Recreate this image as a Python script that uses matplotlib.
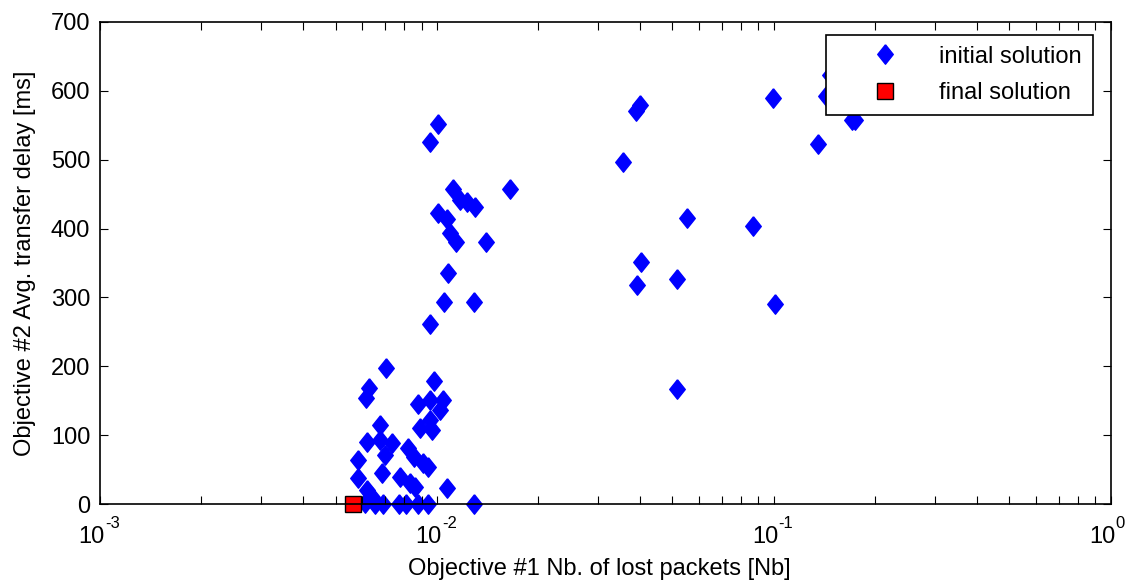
import numpy as np
import matplotlib.pyplot as plt
from matplotlib.ticker import LogLocator, NullFormatter, FixedLocator

plt.rcParams['font.family'] = ['Liberation Sans', 'DejaVu Sans']

# initial solutions: lost packets vs. average transfer delay
lost_init = [
    0.171, 0.1466, 0.1426, 0.135, 0.174, 0.0993, 0.0400, 0.0390, 0.0357,
    0.0552, 0.0868, 0.0403, 0.0392, 0.0515, 0.1007, 0.0515,
    0.01007, 0.00953, 0.01115, 0.01647, 0.0117, 0.0123, 0.0130, 0.01007,
    0.0107, 0.0109, 0.0114, 0.01397, 0.0108, 0.0105, 0.0129, 0.00953,
    0.00706, 0.00628, 0.00615, 0.0098, 0.00879, 0.00953, 0.0104, 0.0102,
    0.00953, 0.0089, 0.0097, 0.00678, 0.0062, 0.00678, 0.00735, 0.00701,
    0.00583, 0.0082, 0.00856, 0.00908, 0.0094, 0.00686, 0.00583, 0.00777,
    0.0083, 0.0086, 0.0107, 0.0062, 0.0064, 0.0061, 0.00655, 0.0069,
    0.0077, 0.0081, 0.0088, 0.0094, 0.0129,
]
delay_init = [
    557, 623, 593, 523, 557, 590, 579, 571, 496,
    415, 403, 351, 318, 327, 290, 167,
    552, 526, 457, 457, 441, 438, 431, 422,
    414, 393, 380, 380, 335, 293, 293, 261,
    197, 168, 154, 178, 145, 151, 151, 136,
    122, 110, 107, 115, 90, 93, 88, 71,
    64, 81, 68, 59, 54, 45, 38, 39,
    30, 25, 23, 20, 10, 1, 0, 0,
    0, 0, 0, 0, 0,
]

# final solution
lost_final = [0.00563]
delay_final = [0]

x_ticks = [1e-3, 1e-2, 1e-1, 1e0]
x_exponents = ['-3', '-2', '-1', '0']
y_ticks = [0, 100, 200, 300, 400, 500, 600, 700]

# tall diamond like the MATLAB 'd' marker
diamond = [(0, 1), (0.8, 0), (0, -1), (-0.8, 0), (0, 1)]

fig = plt.figure(figsize=(11.3, 5.83), dpi=100)
ax = fig.add_axes([0.0885, 0.1355, 0.8945, 0.8268])

ax.plot(lost_init, delay_init, linestyle='none', marker=diamond,
        markersize=14, color='#0000ff', markeredgecolor='#0000ff',
        label='initial solution', clip_on=False, zorder=1)
ax.plot(lost_final, delay_final, linestyle='none', marker='s',
        markersize=11, markerfacecolor='#ff0000', markeredgecolor='black',
        markeredgewidth=1.0, label='final solution', clip_on=False, zorder=1)

ax.set_xscale('log')
ax.set_xlim(1e-3, 1e0)
ax.set_ylim(0, 700)
ax.xaxis.set_major_locator(FixedLocator(x_ticks))
ax.xaxis.set_major_formatter(NullFormatter())
ax.xaxis.set_minor_locator(LogLocator(base=10, subs=np.arange(2, 10)))
ax.xaxis.set_minor_formatter(NullFormatter())
ax.set_yticks(y_ticks)

# MATLAB-style power labels: big "10" with a raised small exponent
for t, e in zip(x_ticks, x_exponents):
    ax.annotate('10', xy=(t, 0), xycoords=('data', 'axes fraction'),
                xytext=(-6, -28), textcoords='offset points',
                ha='center', va='baseline', fontsize=17)
    ax.annotate(e, xy=(t, 0), xycoords=('data', 'axes fraction'),
                xytext=(3.5, -17.5), textcoords='offset points',
                ha='left', va='baseline', fontsize=12)

ax.tick_params(which='both', direction='in', top=True, right=True,
               labelsize=17, width=0.8, length=6)
ax.tick_params(axis='y', pad=7)
for s in ax.spines.values():
    s.set_linewidth(1.2)
    s.set_zorder(3)

ax.set_xlabel('Objective #1 Nb. of lost packets [Nb]', fontsize=17)
ax.xaxis.set_label_coords(0.494, -0.112)
ax.set_ylabel('Objective #2 Avg. transfer delay [ms]', fontsize=17, labelpad=11)

leg = ax.legend(loc='upper right', bbox_to_anchor=(0.982, 0.973),
                fontsize=17, frameon=True, fancybox=False,
                edgecolor='black', framealpha=1, borderaxespad=0,
                handletextpad=0.25, borderpad=0.45, labelspacing=0.62,
                handlelength=4.1)
leg.get_frame().set_linewidth(1.2)
leg.set_zorder(5)

fig.savefig('out.png', dpi=100)
